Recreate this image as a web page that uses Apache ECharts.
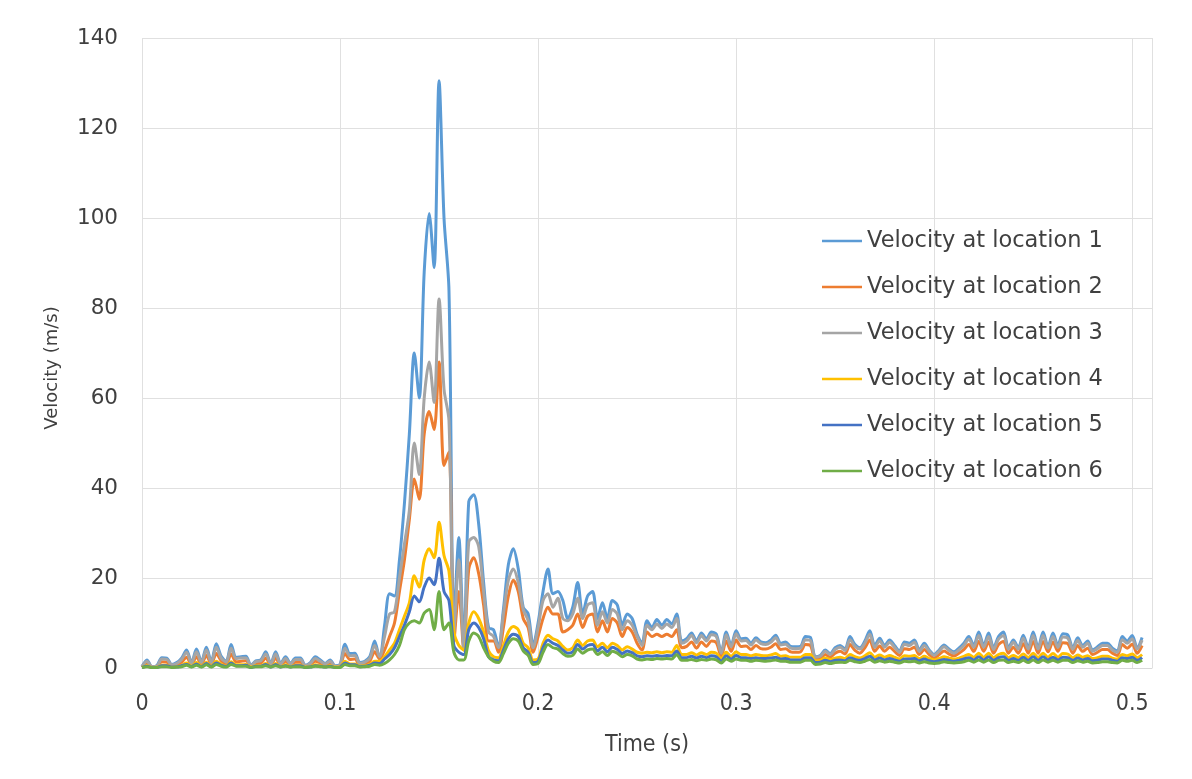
<!DOCTYPE html>
<html>
<head>
<meta charset="utf-8">
<script src="https://cdn.jsdelivr.net/npm/echarts@6/dist/echarts.min.js"></script>
<style>
html,body{margin:0;padding:0;background:#fff;}
#chart{width:1192px;height:779px;}
</style>
</head>
<body>
<div id="chart"></div>
<script>
// Sample times (s)
const time = [
0,0.0025,0.005,0.0075,0.01,0.0125,0.015,0.0175,0.02,0.0225,
0.025,0.0275,0.03,0.0325,0.035,0.0375,0.04,0.0425,0.045,0.0475,
0.05,0.0525,0.055,0.0575,0.06,0.0625,0.065,0.0675,0.07,0.0725,
0.075,0.0775,0.08,0.0825,0.085,0.0875,0.09,0.0925,0.095,0.0975,
0.1,0.1025,0.105,0.1075,0.11,0.1125,0.115,0.1175,0.12,0.1225,
0.125,0.1275,0.13,0.1325,0.135,0.1375,0.14,0.1425,0.145,0.1475,
0.15,0.1525,0.155,0.1575,0.16,0.1625,0.165,0.1675,0.17,0.1725,
0.175,0.1775,0.18,0.1825,0.185,0.1875,0.19,0.1925,0.195,0.1975,
0.2,0.2025,0.205,0.2075,0.21,0.2125,0.215,0.2175,0.22,0.2225,
0.225,0.2275,0.23,0.2325,0.235,0.2375,0.24,0.2425,0.245,0.2475,
0.25,0.2525,0.255,0.2575,0.26,0.2625,0.265,0.2675,0.27,0.2725,
0.275,0.2775,0.28,0.2825,0.285,0.2875,0.29,0.2925,0.295,0.2975,
0.3,0.3025,0.305,0.3075,0.31,0.3125,0.315,0.3175,0.32,0.3225,
0.325,0.3275,0.33,0.3325,0.335,0.3375,0.34,0.3425,0.345,0.3475,
0.35,0.3525,0.355,0.3575,0.36,0.3625,0.365,0.3675,0.37,0.3725,
0.375,0.3775,0.38,0.3825,0.385,0.3875,0.39,0.3925,0.395,0.3975,
0.4,0.4025,0.405,0.4075,0.41,0.4125,0.415,0.4175,0.42,0.4225,
0.425,0.4275,0.43,0.4325,0.435,0.4375,0.44,0.4425,0.445,0.4475,
0.45,0.4525,0.455,0.4575,0.46,0.4625,0.465,0.4675,0.47,0.4725,
0.475,0.4775,0.48,0.4825,0.485,0.4875,0.49,0.4925,0.495,0.4975,
0.5,0.5025,0.505
];

const loc1 = [
0.3,1.8,0.3,0.5,2.3,2.2,0.8,1.2,2.2,4.0,
1.2,4.2,1.4,4.6,1.4,5.4,2.6,1.5,5.2,2.4,
2.5,2.6,0.6,1.6,1.8,3.6,1.0,3.6,1.0,2.5,
1.0,2.2,2.2,0.6,1.2,2.5,1.8,1.0,1.8,0.5,
0.8,5.3,3.2,3.3,1.2,1.5,2.5,6.0,2.0,9.5,
16.5,16,24,36.5,52,70,60,88,101,89,
130.5,100,84,10,29,5,37,38.5,32,19,
9,8.5,4.8,13,23,26.5,22,13.5,12,5,
10,17,22,16.5,17,15,11,13.5,19,12,
16,17,11,14.5,11,15,14,9.5,12,11,
7.5,5.5,10.5,9,10.8,9.5,10.8,9.8,12,6,
6.5,7.8,6,7.8,6.5,8,7.5,3.5,8,5,
8.3,6.5,6.6,5.5,6.7,5.8,5.6,6.2,7.3,5.5,
5.8,4.8,4.7,4.8,7,6.8,2.5,2.8,4,3.2,
4.5,5,4.2,7,5.2,4.5,6,8.3,5,6.6,
5,6.2,5,3.8,5.8,5.5,6.2,4,5.5,4,
3,4,5.1,4.2,3.6,4.4,5.5,7,5,8,
5,7.8,4.5,7,8,4.5,6.2,4.5,7.3,4.5,
8,4.5,8,4.8,7.8,5,7.6,7.3,4.5,6.7,
5,6,4,4.7,5.5,5.5,4.4,3.8,7,6,
7.2,4.5,6.8
];

const loc2 = [
0.2,1.1,0.2,0.3,1.4,1.3,0.5,0.7,1.3,2.4,
0.7,2.5,0.8,2.8,0.8,3.2,1.6,0.9,3.1,1.4,
1.5,1.6,0.4,1,1.1,2.2,0.6,2.2,0.6,1.5,
0.6,1.3,1.3,0.4,0.7,1.5,1.1,0.6,1.1,0.3,
0.5,3.2,1.9,2,0.7,0.9,1.5,3.6,2,4,
7,10,17,24,33,42,37.5,52,57,53,
68,45,48,6,17,4,22,24.5,21,14,
6,6,3.5,9,16,19.5,17,11,9,3.5,
7,11,13.5,12,12,8,8.5,9.5,12,9,
11.5,12,8,10.5,8,11,10,7,9,8,
5.5,4,8,7,7.5,7,7.5,7,8.5,4.5,
4.8,5.8,4.4,5.8,4.8,6,5.6,2.6,6,3.7,
6.2,4.8,4.9,4.1,5,4.3,4.2,4.6,5.4,4.1,
4.3,3.6,3.5,3.6,5.2,5,1.9,2.1,3,2.4,
3.3,3.7,3.1,5.2,3.9,3.3,4.5,6.2,3.7,4.9,
3.7,4.6,3.7,2.8,4.3,4.1,4.6,3,4.1,3,
2.2,3,3.8,3.1,2.7,3.3,4.1,5.2,3.7,5.9,
3.7,5.8,3.3,5.2,5.9,3.3,4.6,3.3,5.4,3.3,
5.9,3.3,5.9,3.6,5.8,3.7,5.6,5.4,3.3,5,
3.7,4.4,3,3.5,4.1,4.1,3.3,2.8,5.2,4.4,
5.3,3.3,5
];

const loc3 = [
0.3,1.5,0.3,0.4,2.0,1.9,0.7,1.0,1.9,3.5,
1.0,3.6,1.2,4.0,1.2,4.6,2.2,1.3,4.4,2.1,
2.2,2.2,0.5,1.4,1.6,3.1,0.9,3.1,0.9,2.1,
0.9,1.9,1.9,0.5,1.0,2.1,1.5,0.9,1.5,0.4,
0.7,4.4,2.7,2.8,1.0,1.3,2.1,5.0,2.5,7,
12,12.5,20,27.5,35,50,43,60,68,59,
82,62,55,8,24,4,28,29,27,17,
8,7,4.5,12,19.5,22,19,13,10.5,4.5,
9,15,16.5,13.5,15.5,11,10.5,12,15.5,11,
14,14.5,9.5,12.5,10,13,12,8.5,10.5,9.5,
7,5,9.5,8.5,9.8,8.8,9.8,9,11,5.5,
6,7.2,5.6,7.2,6,7.4,7,3.3,7.4,4.7,
7.6,6,6.1,5.1,6.2,5.4,5.2,5.7,6.7,5.1,
5.3,4.4,4.3,4.4,6.3,6.1,2.4,2.6,3.7,3,
4.1,4.6,3.9,6.3,4.8,4.2,5.5,7.5,4.6,6,
4.6,5.7,4.6,3.5,5.3,5,5.7,3.7,5,3.7,
2.8,3.7,4.7,3.9,3.3,4,5,6.4,4.6,7.2,
4.6,7,4.1,6.4,7.2,4.2,5.7,4.2,6.6,4.2,
7.2,4.2,7.2,4.4,7,4.6,6.9,6.6,4.2,6.1,
4.6,5.5,3.7,4.3,5,5,4,3.5,6.3,5.5,
6.5,4.2,6.2
];

const loc4 = [
0.1,0.5,0.1,0.2,0.6,0.6,0.2,0.3,0.6,1.1,
0.4,1.2,0.4,1.3,0.4,1.5,0.8,0.4,1.4,0.7,
0.7,0.8,0.2,0.5,0.5,1,0.3,1,0.3,0.7,
0.3,0.6,0.6,0.2,0.3,0.7,0.5,0.3,0.5,0.2,
0.3,1.5,0.9,0.9,0.4,0.5,0.8,1.5,1.5,2.5,
4,5.5,8.5,11.5,14.5,20.5,18,24,26.5,24.5,
32.4,25,21.5,8,5,4,10,12.5,11,8,
3.8,2.5,2.3,5,8,9.2,8.5,5.5,4.5,1.8,
2,5.5,7.3,6.5,6,4.8,4,4.5,6.2,5,
6,6.2,4.7,5.5,4.5,5.5,5,4,4.7,4.2,
3.5,3.3,3.5,3.4,3.6,3.4,3.6,3.5,5,3,
3,3.4,2.9,3.4,3,3.5,3.3,2,3.5,2.6,
3.6,3,3,2.7,3,2.8,2.7,2.9,3.2,2.6,
2.7,2.4,2.4,2.4,3,3,1.6,1.7,2.2,1.9,
2.2,2.4,2.1,3,2.5,2.2,2.7,3.4,2.4,2.9,
2.4,2.8,2.4,2,2.7,2.6,2.8,2.1,2.6,2.1,
1.8,2.1,2.5,2.2,2,2.2,2.6,3,2.4,3.3,
2.4,3.3,2.3,3,3.3,2.3,2.8,2.3,3.1,2.3,
3.3,2.3,3.3,2.4,3.2,2.4,3.2,3.1,2.3,2.9,
2.4,2.7,2.1,2.3,2.6,2.6,2.2,2,3,2.7,
3.1,2.3,3
];

const loc5 = [
0.1,0.4,0.1,0.1,0.5,0.5,0.2,0.2,0.5,0.8,
0.3,0.9,0.3,1,0.3,1.1,0.6,0.3,1.1,0.5,
0.5,0.6,0.1,0.4,0.4,0.8,0.2,0.8,0.2,0.5,
0.2,0.5,0.5,0.1,0.2,0.5,0.4,0.2,0.4,0.1,
0.2,1.1,0.7,0.7,0.3,0.4,0.6,1.1,1,2,
3,4.5,7,9.5,12.5,16,14.7,18,20,18.5,
24.4,17,15,5,3.5,3,8.5,10,9,6.5,
2.5,1.8,1.6,4,6.5,7.5,7,4.5,3.5,1.2,
1.5,4.5,6.2,5.5,5,4,3.3,3.6,5.2,4.2,
5,5.2,3.8,4.6,3.6,4.6,4.1,3.2,3.8,3.4,
2.7,2.5,2.7,2.6,2.8,2.6,2.8,2.7,3.8,2.3,
2.3,2.6,2.2,2.6,2.3,2.7,2.5,1.5,2.7,2,
2.8,2.3,2.3,2.1,2.3,2.1,2.1,2.2,2.4,2,
2.1,1.8,1.8,1.8,2.3,2.3,1.2,1.3,1.7,1.4,
1.7,1.8,1.6,2.3,1.9,1.7,2.1,2.6,1.8,2.2,
1.8,2.1,1.8,1.5,2,2,2.1,1.6,2,1.6,
1.4,1.6,1.9,1.7,1.5,1.7,2,2.3,1.8,2.5,
1.8,2.5,1.7,2.3,2.5,1.7,2.1,1.7,2.4,1.7,
2.5,1.7,2.5,1.8,2.4,1.8,2.4,2.3,1.7,2.2,
1.8,2.1,1.6,1.7,2,2,1.7,1.5,2.3,2.1,
2.4,1.7,2.3
];

const loc6 = [
0.1,0.3,0.1,0.1,0.3,0.3,0.1,0.2,0.3,0.6,
0.2,0.6,0.2,0.7,0.2,0.8,0.4,0.2,0.8,0.4,
0.4,0.4,0.1,0.3,0.3,0.5,0.2,0.5,0.2,0.4,
0.2,0.3,0.3,0.1,0.2,0.4,0.3,0.2,0.3,0.1,
0.1,0.8,0.5,0.5,0.2,0.3,0.4,0.8,0.6,1,
1.8,3,5,8.5,10,10.5,10,12.2,13,8.5,
17,8.5,10,3.5,1.8,1.8,6,7.8,7,4.5,
2.5,1.5,1.2,3.2,5.5,6.5,6,3.8,2.8,0.8,
1,3.5,5.2,4.5,4.2,3.2,2.6,2.8,4.2,3.3,
4,4.2,3,3.6,2.8,3.7,3.3,2.5,3,2.7,
2,1.8,2,1.9,2.1,2,2.1,2,3,1.7,
1.7,1.9,1.6,1.9,1.7,2,1.8,1.1,2,1.5,
2,1.7,1.7,1.5,1.7,1.6,1.5,1.6,1.8,1.5,
1.5,1.3,1.3,1.3,1.7,1.7,0.8,0.9,1.2,1,
1.2,1.3,1.2,1.7,1.4,1.2,1.5,1.9,1.3,1.6,
1.3,1.5,1.3,1.1,1.5,1.4,1.5,1.1,1.4,1.1,
1,1.1,1.4,1.2,1.1,1.2,1.4,1.7,1.3,1.8,
1.3,1.8,1.2,1.7,1.8,1.2,1.5,1.2,1.7,1.2,
1.8,1.2,1.8,1.3,1.7,1.3,1.7,1.7,1.2,1.6,
1.3,1.5,1.1,1.2,1.4,1.4,1.2,1.1,1.7,1.5,
1.7,1.2,1.7
];

const seriesNames = [
  'Velocity at location 1','Velocity at location 2','Velocity at location 3',
  'Velocity at location 4','Velocity at location 5','Velocity at location 6'
];
const seriesValues = [loc1, loc2, loc3, loc4, loc5, loc6];
const colors = ['#5B9BD5','#ED7D31','#A5A5A5','#FFC000','#4472C4','#70AD47'];
const xTitle = 'Time (s)';
const yTitle = 'Velocity (m/s)';

const chart = echarts.init(document.getElementById('chart'), null, {renderer: 'canvas'});

const series = seriesNames.map((name, k) => ({
  name: name,
  type: 'line',
  data: time.map((t, i) => [t, seriesValues[k][i]]),
  showSymbol: false,
  symbol: 'none',
  smooth: 0.3,
  lineStyle: { width: 3, color: colors[k] },
  itemStyle: { color: colors[k] },
  animation: false
}));

chart.setOption({
  animation: false,
  color: colors,
  grid: { left: 142, right: 40, top: 38, bottom: 111, containLabel: false },
  legend: {
    orient: 'vertical',
    left: 822,
    top: 229,
    padding: 0,
    icon: 'rect',
    itemWidth: 40,
    itemHeight: 2.5,
    itemGap: 22,
    textStyle: { fontFamily: 'DejaVu Sans', fontSize: 22.5, color: '#404040', lineHeight: 24 },
    data: seriesNames
  },
  graphic: [{
    type: 'text',
    x: 52,
    y: 368,
    rotation: Math.PI / 2,
    style: {
      text: yTitle,
      fontFamily: 'DejaVu Sans',
      fontSize: 18,
      fill: '#404040',
      align: 'center',
      verticalAlign: 'middle'
    }
  }],
  xAxis: {
    type: 'value',
    min: 0,
    max: 0.51,
    interval: 0.1,
    name: xTitle,
    nameLocation: 'middle',
    nameGap: 66,
    nameTextStyle: { fontFamily: 'Liberation Sans Narrow, DejaVu Sans Condensed, sans-serif', fontSize: 23, color: '#404040' },
    axisLine: { show: true, lineStyle: { color: '#d9d9d9', width: 1 } },
    axisTick: { show: false },
    axisLabel: { margin: 25, fontFamily: 'Liberation Sans Narrow, DejaVu Sans Condensed, sans-serif', fontSize: 23, color: '#404040' },
    splitLine: { show: true, lineStyle: { color: '#e0e0e0', width: 1 } }
  },
  yAxis: {
    type: 'value',
    min: 0,
    max: 140,
    interval: 20,
    axisLine: { show: false },
    axisTick: { show: false },
    axisLabel: { margin: 24, fontFamily: 'DejaVu Sans', fontSize: 21.5, color: '#404040' },
    splitLine: { show: true, lineStyle: { color: '#e0e0e0', width: 1 } }
  },
  series: series
});
</script>
</body>
</html>
